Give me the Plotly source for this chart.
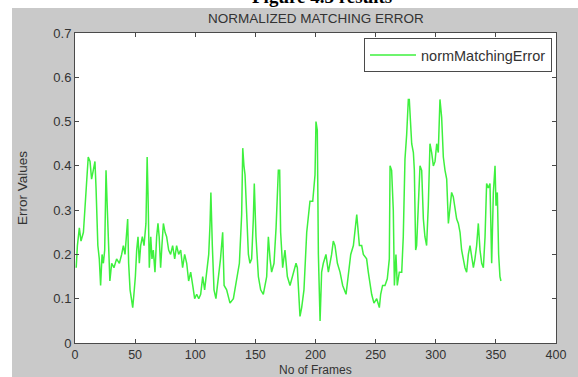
import plotly.graph_objects as go

# Frame numbers and normalized matching error values
frames = [
    1, 2, 3.6, 5, 7, 8.6, 9.7, 11, 12.5, 13.8, 15.2, 16.6, 17.5, 19, 20.2, 21.3, 22.5, 23.6, 24.7, 25.8,
    26.9, 28, 29, 30.5, 32.4, 34.6, 36.9, 38.8, 40.2, 41.6, 43, 43.8, 44.6, 45.8, 46.9, 48, 49, 50.2, 51.3, 52.4,
    53.5, 54.6, 56, 57.4, 59, 60, 60.7, 61.8, 63, 64, 65.1, 66.5, 67.9, 69, 70, 71.2, 72.3, 73.5, 74.9, 76.2,
    77.9, 79.5, 81.2, 82.9, 84.5, 86.2, 87.9, 89.5, 91.2, 92.9, 94.5, 96.2, 97.9, 99.5, 101.2, 102.9, 104.5, 106.2, 107.8, 109.5,
    111.2, 112.3, 113, 114.2, 115.6, 117.2, 119, 121, 122.8, 124, 126.1, 128.9, 131.7, 134.5, 136.7, 138.6, 139.5, 140.5, 141.4, 142.8,
    144.2, 145.5, 146.9, 148.3, 149.1, 150.5, 152.5, 154.4, 156.6, 159.4, 160.8, 162.2, 163.5, 165.5, 167.2, 169.1, 170.2, 171, 172.7, 174.6,
    176.6, 178.8, 181.6, 183.8, 184.9, 186, 187.1, 188.5, 190.4, 192.7, 195.4, 197.7, 199.6, 200.4, 201.5, 202.4, 203.8, 205.1, 206.5, 208.7,
    210.7, 213.4, 214.8, 216.2, 218.2, 220.4, 222.6, 225.4, 227.3, 229.3, 231.5, 234.3, 236.5, 238.4, 239.8, 242.5, 243.9, 245.3, 246.7, 248.6,
    250.9, 253.1, 254.2, 255.8, 257.8, 259.7, 261.4, 262, 263.3, 264.7, 265.6, 266.9, 268, 269.7, 271.7, 273, 274.4, 275.8, 277.2, 278,
    279.1, 280, 281.4, 282.2, 283.3, 284.1, 285.5, 286.9, 288.3, 289.7, 291, 292.4, 293.8, 295.2, 296.6, 298, 299.4, 300.8, 302.1, 303.5,
    304.9, 306.3, 307.7, 309.1, 310.5, 311.3, 313.2, 314.6, 317.4, 318.8, 320.2, 321.5, 322.9, 324.3, 325.7, 327.1, 328.5, 329.9, 331.3, 332.6,
    334, 335.4, 336.8, 338.2, 339.6, 341, 342.3, 343.7, 345.1, 346.5, 347.9, 349.3, 350.1, 351.2, 352.3, 353.4, 354.2,
]
errors = [
    0.17, 0.22, 0.26, 0.23, 0.25, 0.33, 0.38, 0.42, 0.41, 0.37, 0.39, 0.41, 0.35, 0.22, 0.19, 0.13, 0.20, 0.18, 0.21, 0.39,
    0.30, 0.20, 0.14, 0.18, 0.17, 0.19, 0.18, 0.20, 0.22, 0.20, 0.24, 0.28, 0.18, 0.12, 0.10, 0.08, 0.11, 0.15, 0.21, 0.24,
    0.18, 0.22, 0.24, 0.22, 0.27, 0.42, 0.34, 0.17, 0.24, 0.19, 0.21, 0.16, 0.24, 0.27, 0.24, 0.17, 0.22, 0.27, 0.25, 0.24,
    0.21, 0.20, 0.22, 0.19, 0.22, 0.20, 0.21, 0.17, 0.20, 0.18, 0.14, 0.16, 0.13, 0.10, 0.11, 0.10, 0.11, 0.15, 0.12, 0.16,
    0.20, 0.27, 0.34, 0.22, 0.12, 0.10, 0.14, 0.19, 0.25, 0.13, 0.12, 0.09, 0.10, 0.15, 0.18, 0.29, 0.44, 0.40, 0.38, 0.29,
    0.20, 0.18, 0.19, 0.28, 0.36, 0.24, 0.15, 0.12, 0.11, 0.15, 0.24, 0.19, 0.16, 0.18, 0.26, 0.39, 0.39, 0.25, 0.17, 0.21,
    0.15, 0.13, 0.16, 0.18, 0.17, 0.10, 0.06, 0.08, 0.12, 0.25, 0.32, 0.32, 0.38, 0.50, 0.48, 0.20, 0.05, 0.16, 0.18, 0.20,
    0.16, 0.20, 0.23, 0.22, 0.18, 0.16, 0.13, 0.11, 0.16, 0.20, 0.22, 0.29, 0.22, 0.22, 0.20, 0.19, 0.16, 0.13, 0.11, 0.09,
    0.10, 0.08, 0.11, 0.13, 0.13, 0.145, 0.19, 0.40, 0.39, 0.30, 0.13, 0.20, 0.13, 0.16, 0.16, 0.24, 0.415, 0.47, 0.55, 0.55,
    0.49, 0.45, 0.43, 0.39, 0.21, 0.22, 0.31, 0.40, 0.39, 0.28, 0.24, 0.22, 0.31, 0.45, 0.43, 0.40, 0.41, 0.45, 0.43, 0.55,
    0.51, 0.42, 0.39, 0.37, 0.27, 0.29, 0.34, 0.33, 0.28, 0.27, 0.25, 0.21, 0.19, 0.17, 0.16, 0.20, 0.22, 0.19, 0.17, 0.19,
    0.22, 0.27, 0.21, 0.18, 0.17, 0.24, 0.36, 0.35, 0.36, 0.18, 0.34, 0.40, 0.31, 0.34, 0.20, 0.15, 0.14,
]

x_ticks = [0, 50, 100, 150, 200, 250, 300, 350, 400]
y_ticks = [0, 0.1, 0.2, 0.3, 0.4, 0.5, 0.6, 0.7]
y_tick_labels = ["0", "0.1", "0.2", "0.3", "0.4", "0.5", "0.6", "0.7"]

FONT = "Liberation Sans, Arial, sans-serif"
GRAY_BG = "#c9c9c9"
AXIS_C = "#4a4a4a"
TXT_C = "#333333"

fig = go.Figure()
fig.add_trace(go.Scatter(
    x=frames, y=errors, mode="lines", name="normMatchingError",
    line=dict(color="#3ef03e", width=1.5),
))

W, H = 578, 377
L, R, T, B = 75, 22, 33, 34
pw, ph = W - L - R, H - T - B

def px(x):
    return (x - L) / pw

def py(y):
    return (H - B - y) / ph

fig.update_layout(
    width=W, height=H,
    margin=dict(l=L, r=R, t=T, b=B, pad=0),
    paper_bgcolor=GRAY_BG, plot_bgcolor="white",
    font=dict(family=FONT, size=13, color=TXT_C),
    showlegend=True,
    legend=dict(
        x=px(552), y=py(38), xanchor="right", yanchor="top",
        bgcolor="white", bordercolor=AXIS_C, borderwidth=1,
        font=dict(family=FONT, size=14.5, color=TXT_C),
        itemwidth=46,
    ),
    xaxis=dict(
        range=[0, 400], tickvals=x_ticks, ticktext=[str(v) for v in x_ticks],
        showgrid=False, zeroline=False,
        showline=True, linecolor=AXIS_C, linewidth=1, mirror="ticks",
        ticks="inside", ticklen=4, tickcolor=AXIS_C,
        tickfont=dict(family=FONT, size=12.5, color=TXT_C),
    ),
    yaxis=dict(
        range=[0, 0.7], tickvals=y_ticks, ticktext=y_tick_labels,
        showgrid=False, zeroline=False,
        showline=True, linecolor=AXIS_C, linewidth=1, mirror="ticks",
        ticks="inside", ticklen=4, tickcolor=AXIS_C,
        tickfont=dict(family=FONT, size=13, color=TXT_C),
    ),
    shapes=[
        dict(type="rect", xref="paper", yref="paper", x0=px(-20), x1=px(12), y0=py(H + 20), y1=py(-20),
             fillcolor="white", line=dict(width=0), layer="above"),
        dict(type="rect", xref="paper", yref="paper", x0=px(-20), x1=px(W + 20), y0=py(8), y1=py(-20),
             fillcolor="white", line=dict(width=0), layer="above"),
    ],
    annotations=[
        dict(text="<b>Figure 4.3 results</b>", xref="paper", yref="paper", x=px(322), y=py(-3),
             xanchor="center", yanchor="middle", showarrow=False,
             font=dict(family="Liberation Serif, Times New Roman, serif", size=19, color="#000000")),
        dict(text="NORMALIZED MATCHING ERROR", xref="paper", yref="paper", x=0.5, y=py(18),
             xanchor="center", yanchor="middle", showarrow=False,
             font=dict(family=FONT, size=13.5, color=TXT_C)),
        dict(text="No of Frames", xref="paper", yref="paper", x=0.5, y=py(369.8),
             xanchor="center", yanchor="middle", showarrow=False,
             font=dict(family=FONT, size=12, color=TXT_C)),
        dict(text="Error Values", xref="paper", yref="paper", x=px(22), y=0.5, textangle=-90,
             xanchor="center", yanchor="middle", showarrow=False,
             font=dict(family=FONT, size=13.5, color=TXT_C)),
    ],
)

fig.write_html("out.html", config={"displayModeBar": False},
               post_script="document.body.style.margin='0';")
